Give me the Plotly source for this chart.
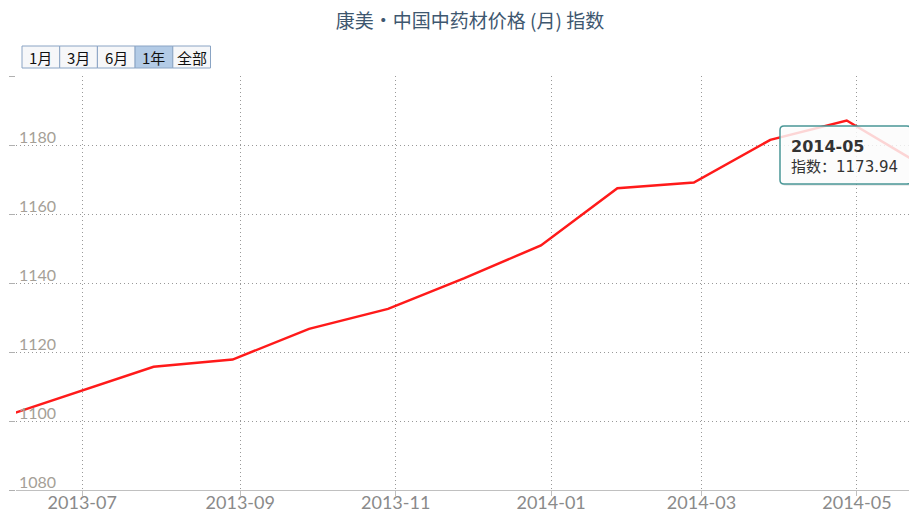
import plotly.graph_objects as go

# ---- data (monthly index) ----
dates = ["2013-05-30", "2013-06-29", "2013-07-29", "2013-08-29", "2013-09-28",
         "2013-10-29", "2013-11-28", "2013-12-28", "2014-01-27", "2014-02-26",
         "2014-03-28", "2014-04-27", "2014-05-27"]
values = [1101.0, 1108.3, 1115.7, 1117.8, 1126.7, 1132.5, 1141.4, 1150.9,
          1167.5, 1169.1, 1181.5, 1187.1, 1173.94]
x_range = ["2013-06-05", "2014-05-24 14:00"]
y_ticks = [1080, 1100, 1120, 1140, 1160, 1180, 1200]
y_tick_labels = ["1080", "1100", "1120", "1140", "1160", "1180", ""]
buttons = ["1月", "3月", "6月", "1年", "全部"]
active_button = "1年"
title = "康美·中国中药材价格 (月) 指数"
tip_date = "2014-05"
tip_label = "指数："
tip_value = "1173.94"

# ---- layout geometry (page pixels; the page body adds an 8px offset) ----
OFF = 8
W, H = 917 - OFF, 514 - OFF
PLOT_L, PLOT_T, PLOT_B = 16, 76, 490          # in page pixels
L, R, T, B = PLOT_L - OFF, 0, PLOT_T - OFF, 514 - PLOT_B
PW, PH = W - L - R, H - T - B


def px(x):
    return (x - PLOT_L) / PW


def py(y):
    return (PLOT_B - y) / PH


def rounded_rect(x0, y0, x1, y1, r):
    return (f"M {px(x0 + r)},{py(y0)} L {px(x1 - r)},{py(y0)} "
            f"Q {px(x1)},{py(y0)} {px(x1)},{py(y0 + r)} "
            f"L {px(x1)},{py(y1 - r)} Q {px(x1)},{py(y1)} {px(x1 - r)},{py(y1)} "
            f"L {px(x0 + r)},{py(y1)} Q {px(x0)},{py(y1)} {px(x0)},{py(y1 - r)} "
            f"L {px(x0)},{py(y0 + r)} Q {px(x0)},{py(y0)} {px(x0 + r)},{py(y0)} Z")


fig = go.Figure()
fig.add_trace(go.Scatter(
    x=dates, y=values, mode="lines", name="指数",
    line=dict(color="#ff1a1a", width=2.5),
    hovertemplate="%{x|%Y-%m}<br>指数：%{y:.2f}<extra></extra>",
))

shapes = []
annotations = []

# range-selector style buttons
bx0, bw, by0, by1 = 22, 37.7, 46, 68
for i, b in enumerate(buttons):
    x0 = bx0 + i * bw
    x1 = x0 + bw
    shapes.append(dict(
        type="rect", xref="paper", yref="paper",
        x0=px(x0), x1=px(x1), y0=py(by1), y1=py(by0),
        line=dict(color="#8aa4c4", width=1),
        fillcolor="#b3cbe6" if b == active_button else "#f6f7f9",
        layer="above",
    ))
    annotations.append(dict(
        x=px((x0 + x1) / 2), y=py((by0 + by1) / 2), xref="paper", yref="paper",
        text=b, showarrow=False, xanchor="center", yanchor="middle",
        font=dict(size=15, color="#111111", family="Noto Sans CJK SC"),
    ))

# tooltip box
shapes.append(dict(
    type="path", xref="paper", yref="paper",
    path=rounded_rect(782, 128, 913, 186, 4),
    fillcolor="rgba(0,0,0,0.08)", line=dict(width=0), layer="above",
))
shapes.append(dict(
    type="path", xref="paper", yref="paper",
    path=rounded_rect(780, 126, 911, 184, 4),
    fillcolor="rgba(255,255,255,0.82)",
    line=dict(color="#4a9797", width=1.5), layer="above",
))
annotations.append(dict(
    x=px(789), y=py(146), xref="paper", yref="paper", text=f"<b>{tip_date}</b>",
    showarrow=False, xanchor="left", yanchor="middle",
    font=dict(size=16, color="#333333", family="DejaVu Sans, Noto Sans CJK SC"),
))
annotations.append(dict(
    x=px(789), y=py(167), xref="paper", yref="paper",
    text=f"{tip_label}{tip_value}",
    showarrow=False, xanchor="left", yanchor="middle",
    font=dict(size=15, color="#333333", family="DejaVu Sans, Noto Sans CJK SC"),
))

fig.update_layout(
    width=W, height=H,
    margin=dict(l=L, r=R, t=T, b=B, pad=0, autoexpand=False),
    paper_bgcolor="white", plot_bgcolor="white",
    showlegend=False,
    font=dict(family="Lato, Noto Sans CJK SC"),
    title=dict(
        text=title, x=(470 - OFF) / W, xanchor="center",
        y=1 - (21 - OFF) / H, yanchor="middle", automargin=False,
        font=dict(size=19, color="#3e576f", family="Noto Sans CJK SC"),
    ),
    xaxis=dict(
        type="date", range=x_range, automargin=False,
        tick0="2013-07-01", dtick="M2", tickformat="%Y-%m",
        showgrid=True, gridcolor="#999999", griddash="1px,3px", gridwidth=1,
        showline=True, linecolor="#c0c0c0", linewidth=1,
        ticks="outside", ticklen=5, tickcolor="#c0c0c0",
        ticklabelstandoff=-9,
        tickfont=dict(size=18, color="#8a8a8a", family="Lato"),
        zeroline=False, fixedrange=True,
    ),
    yaxis=dict(
        range=[y_ticks[0], y_ticks[-1]], tickvals=y_ticks, ticktext=y_tick_labels,
        automargin=False,
        showgrid=True, gridcolor="#999999", griddash="1px,3px", gridwidth=1,
        showline=False, zeroline=False,
        ticks="outside", ticklen=6, tickcolor="#b0b0b0",
        ticklabelposition="inside top", ticklabelshift=4,
        ticklabeloverflow="allow",
        tickfont=dict(size=16, color="#a59f97", family="Lato"),
        fixedrange=True,
    ),
    shapes=shapes,
    annotations=annotations,
)

fig.write_html("out.html")
